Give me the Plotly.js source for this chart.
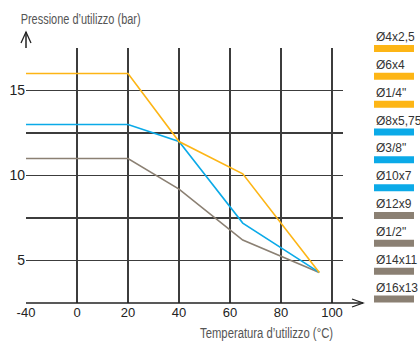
<!DOCTYPE html>
<html>
<head>
<meta charset="utf-8">
<script src="https://cdn.plot.ly/plotly-3.0.1.min.js"></script>
<style>html,body{margin:0;padding:0;background:#fff;}#chart{width:420px;height:343px;}</style>
</head>
<body>
<div id="chart"></div>
<script>
// ---- data ----
const temperature = [-40, 20, 40, 65, 95];
const pressOrange = [16, 16, 12, 10.1, 4.3];
const pressBlue   = [13, 13, 12, 7.2, 4.3];
const pressGrey   = [11, 11, 9.2, 6.2, 4.3];
const xTicks = [-40, 0, 20, 40, 60, 80, 100];
const yTicks = [2.5, 5, 7.5, 10, 12.5, 15, 17.5];
const yTickText = ["", "5", "", "10", "", "15", ""];
const legendLabels = ["Ø4x2,5", "Ø6x4", "Ø1/4\"", "Ø8x5,75", "Ø3/8\"", "Ø10x7", "Ø12x9", "Ø1/2\"", "Ø14x11", "Ø16x13"];
const legendSeries = ["orange", "orange", "orange", "blue", "blue", "blue", "grey", "grey", "grey", "grey"];

// ---- styling ----
const colors = { orange: "#FDB515", blue: "#0BAAE8", grey: "#8B8073" };
const W = 420, H = 343;
const M = { l: 26, r: 77, t: 48, b: 40 };
const PW = W - M.l - M.r, PH = H - M.t - M.b;
const px2x = p => (p - M.l) / PW;
const px2y = p => (H - M.b - p) / PH;
// the x scale is compressed below 0 (-40..0 takes the same width as 0..20)
const axisPos = t => (t < 0 ? t / 2 : t);

const mk = (y, c) => ({
  x: temperature.map(axisPos), y: y, type: "scatter", mode: "lines",
  line: { color: c, width: 1.6 }, hoverinfo: "skip", showlegend: false
});
const traces = [mk(pressGrey, colors.grey), mk(pressBlue, colors.blue), mk(pressOrange, colors.orange)];

const fontMain = "Liberation Sans, Arial, sans-serif";
const gridColor = "#3c3c3c";

const shapes = [];
const annotations = [];
// axes extensions with arrows
shapes.push({ type: "line", xref: "paper", yref: "paper", x0: 0, x1: 0, y0: 1, y1: px2y(32), line: { color: "#222", width: 1.5 } });
shapes.push({ type: "path", xref: "paper", yref: "paper",
  path: `M ${px2x(21)},${px2y(43)} L ${px2x(26)},${px2y(32)} L ${px2x(31)},${px2y(43)}`, line: { color: "#222", width: 1.3 } });
shapes.push({ type: "line", xref: "paper", yref: "paper", x0: 0, x1: px2x(363), y0: 0, y1: 0, line: { color: "#222", width: 1.5 } });
shapes.push({ type: "path", xref: "paper", yref: "paper",
  path: `M ${px2x(352)},${px2y(299)} L ${px2x(363)},${px2y(303)} L ${px2x(352)},${px2y(307)}`, line: { color: "#222", width: 1.3 } });

// legend (label above a colour bar)
const legTop = 48.5, legBottom = 299;
const step = (legBottom - legTop) / (legendLabels.length - 1);
legendLabels.forEach((lab, i) => {
  const cy = legTop + i * step;
  shapes.push({ type: "rect", xref: "paper", yref: "paper",
    x0: px2x(374), x1: px2x(414), y0: px2y(cy - 3.5), y1: px2y(cy + 3.5),
    fillcolor: colors[legendSeries[i]], line: { width: 0 } });
  annotations.push({ xref: "paper", yref: "paper", x: px2x(374), y: px2y(cy - 11.5),
    xanchor: "left", yanchor: "middle", showarrow: false, text: lab,
    font: { family: fontMain, size: 12, color: "#333" } });
});

// axis titles (condensed afterwards to the reference width)
const titleFits = [];
annotations.push({ xref: "paper", yref: "paper", x: px2x(80), y: px2y(19), xanchor: "center", yanchor: "middle",
  showarrow: false, text: "Pressione d’utilizzo (bar)", font: { family: fontMain, size: 14, color: "#555" } });
titleFits.push({ idx: annotations.length - 1, len: 120 });
annotations.push({ xref: "paper", yref: "paper", x: px2x(266.5), y: px2y(333), xanchor: "center", yanchor: "middle",
  showarrow: false, text: "Temperatura d’utilizzo (°C)", font: { family: fontMain, size: 14, color: "#555" } });
titleFits.push({ idx: annotations.length - 1, len: 133 });

const layout = {
  width: W, height: H, margin: M,
  paper_bgcolor: "#fff", plot_bgcolor: "#fff",
  showlegend: false,
  xaxis: {
    range: [-20, (PW - 51) / 2.55], tickvals: xTicks.map(axisPos), ticktext: xTicks.map(String),
    showgrid: true, gridcolor: gridColor, gridwidth: 1.5, zeroline: false, showline: false,
    ticks: "", tickfont: { family: fontMain, size: 13, color: "#222" }, fixedrange: true
  },
  yaxis: {
    range: [2.5, 17.5], tickvals: yTicks, ticktext: yTickText,
    showgrid: true, gridcolor: gridColor, gridwidth: 1.5, zeroline: false, showline: false,
    ticks: "", tickfont: { family: fontMain, size: 14, color: "#222" }, fixedrange: true
  },
  shapes: shapes,
  annotations: annotations
};
Plotly.newPlot("chart", traces, layout, { displayModeBar: false, staticPlot: true }).then(gd => {
  const texts = gd.querySelectorAll("g.annotation text.annotation-text");
  titleFits.forEach(f => {
    const t = texts[f.idx];
    if (t) { t.setAttribute("textLength", f.len); t.setAttribute("lengthAdjust", "spacingAndGlyphs"); }
  });
});
</script>
</body>
</html>
